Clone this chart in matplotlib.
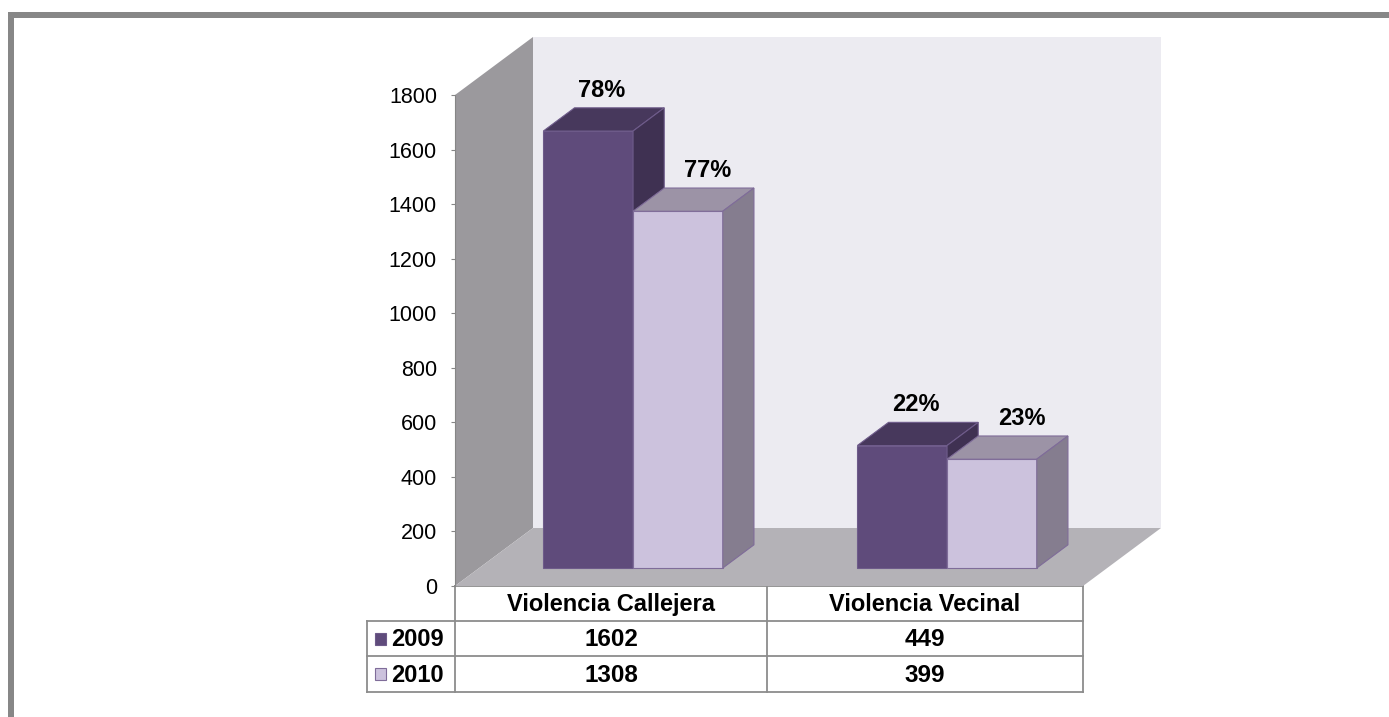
import numpy as np
import matplotlib.pyplot as plt
from matplotlib.patches import Polygon, Rectangle

plt.rcParams['font.family'] = ['Liberation Sans', 'DejaVu Sans']

categories = ['Violencia Callejera', 'Violencia Vecinal']
years = ['2009', '2010']
v2009 = [1602, 449]
v2010 = [1308, 399]
yticks = [0, 200, 400, 600, 800, 1000, 1200, 1400, 1600, 1800]

series = [v2009, v2010]
front_cols = ['#5f4b7b', '#ccc2dd']
top_cols = ['#47385c', '#9c93a6']
side_cols = ['#3f3152', '#857d8f']
edge_cols = ['#6e5b8a', '#7f6c99']

# share of each year's total, shown above the bars
pct = [[v / sum(s) * 100 for v in s] for s in series]

W, H = 1389, 717
fig = plt.figure(figsize=(W / 100, H / 100), dpi=100)

# pixel overlay for frame and data table
bg = fig.add_axes([0, 0, 1, 1])
bg.set_xlim(0, W)
bg.set_ylim(H, 0)
bg.axis('off')
bg.add_patch(Rectangle((8, 12), 6, H - 12, color='#878787', lw=0))
bg.add_patch(Rectangle((8, 12), W - 8, 6, color='#878787', lw=0))

# main chart axes: x = category units, y = value
ax = fig.add_axes([455 / W, (H - 586) / H, 628 / W, 491 / H])
ax.set_xlim(0, 2)
ax.set_ylim(0, 1800)
ax.patch.set_alpha(0)

DX = 78 / 314.0      # full depth, horizontal (category units)
DY = 58 * 1800 / 491  # full depth, vertical (value units)

def proj(x, v, d):
    return (x + d * DX, v + d * DY)

def face(pts, fc, ec='none', z=1):
    ax.add_patch(Polygon([proj(*p) for p in pts], closed=True, facecolor=fc,
                         edgecolor=ec, lw=0.8, zorder=z, clip_on=False))

# walls and floor
face([(0, 0, 1), (2, 0, 1), (2, 1800, 1), (0, 1800, 1)], '#ecebf1', z=0)
face([(0, 0, 0), (0, 0, 1), (0, 1800, 1), (0, 1800, 0)], '#9b999d', z=0.5)
face([(0, 0, 0), (2, 0, 0), (2, 0, 1), (0, 0, 1)], '#b4b2b7', z=0.6)

bw = 0.2857
d0, d1 = 0.31, 0.71
lab_d = [0.48, 0.69]
for i in range(len(categories)):
    for s in range(len(series)):
        v = series[s][i]
        x0 = i + 0.49 - bw + s * bw
        x1 = x0 + bw
        z = 2 + i * 2 + s
        face([(x0, 0, d0), (x1, 0, d0), (x1, v, d0), (x0, v, d0)], front_cols[s], edge_cols[s], z)
        face([(x0, v, d0), (x1, v, d0), (x1, v, d1), (x0, v, d1)], top_cols[s], edge_cols[s], z)
        face([(x1, 0, d0), (x1, 0, d1), (x1, v, d1), (x1, v, d0)], side_cols[s], edge_cols[s], z)
        lx, _ = proj((x0 + x1) / 2, v, lab_d[s])
        _, ly = proj(0, v, d1)
        ax.text(lx, ly + 40, '%d%%' % round(pct[s][i]),
                ha='center', va='baseline', fontsize=17, fontweight='bold',
                zorder=10, clip_on=False)

for sp in ['top', 'right', 'bottom']:
    ax.spines[sp].set_visible(False)
ax.spines['left'].set_color('#868686')
ax.set_xticks([])
ax.set_yticks(yticks)
ax.tick_params(axis='y', length=3, color='#868686', labelsize=15.5, pad=10)

# data table
lc = '#8c8c8c'
cols = [367, 455, 767, 1083]
rows = [586, 621, 656, 692]
bg.plot([455, 1083], [586, 586], color=lc, lw=1.3)
for y in rows[1:]:
    bg.plot([cols[0], cols[-1]], [y, y], color=lc, lw=1.3)
bg.plot([cols[0], cols[0]], [rows[1], rows[-1]], color=lc, lw=1.3)
for x in cols[1:]:
    bg.plot([x, x], [rows[0], rows[-1]], color=lc, lw=1.3)

for j, c in enumerate(categories):
    bg.text((cols[j + 1] + cols[j + 2]) / 2, (rows[0] + rows[1]) / 2 + 1, c,
            ha='center', va='center', fontsize=17, fontweight='bold')
for s in range(len(series)):
    yc = (rows[s + 1] + rows[s + 2]) / 2
    bg.add_patch(Rectangle((375, yc - 6), 11, 12, facecolor=front_cols[s],
                           edgecolor=edge_cols[s], lw=0.8))
    bg.text(391, yc + 1, years[s], ha='left', va='center', fontsize=17, fontweight='bold')
    for j in range(len(categories)):
        bg.text((cols[j + 1] + cols[j + 2]) / 2, yc + 1, str(series[s][j]),
                ha='center', va='center', fontsize=17.5, fontweight='bold')

fig.savefig('out.png', dpi=100)
